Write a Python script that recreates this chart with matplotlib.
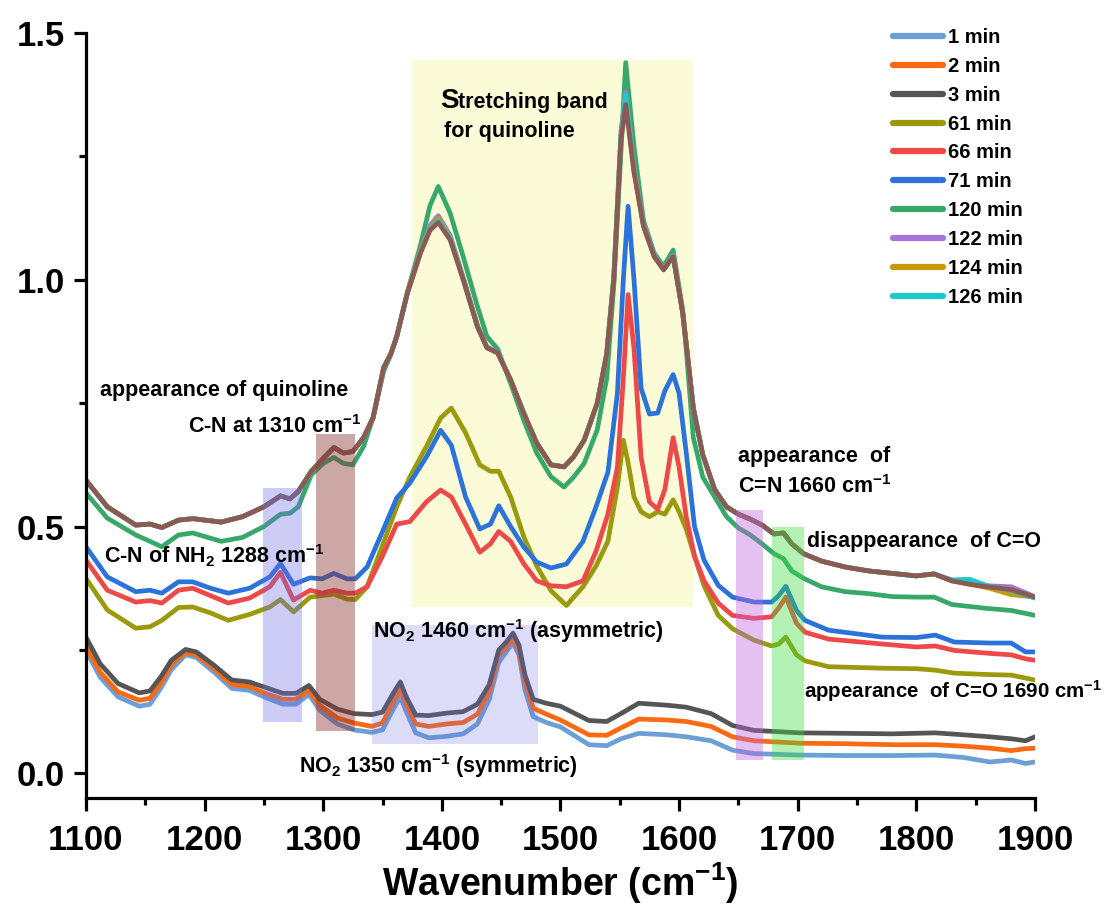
import matplotlib
matplotlib.use("Agg")
import matplotlib.pyplot as plt
from matplotlib.patches import Rectangle
from matplotlib.ticker import MultipleLocator, FormatStrFormatter

# ---- data ----
# early spectra (1, 2, 3 min)
wn_early = [1100, 1112, 1127, 1145, 1154, 1163, 1172, 1184, 1193, 1208, 1223, 1238, 1250,
            1266, 1277, 1288, 1297, 1312, 1326,
            1341, 1350, 1359, 1365, 1370, 1378, 1389, 1404, 1418, 1430, 1440, 1448, 1454,
            1460, 1465, 1470, 1477, 1488,
            1500, 1524, 1539, 1551, 1566, 1590, 1606, 1627, 1645, 1663, 1702, 1741, 1780,
            1816, 1840, 1862, 1880, 1892, 1900]
abs_1min = [.249, .195, .155, .136, .140, .172, .210, .240, .235, .205, .172, .168, .155,
            .140, .140, .160, .128, .100, .088,
            .083, .088, .130, .155, .125, .082, .072, .075, .080, .100, .150, .225, .245,
            .265, .240, .170, .115, .103,
            .094, .058, .056, .070, .081, .078, .074, .066, .047, .040, .037, .036, .036,
            .037, .032, .023, .027, .020, .023]
abs_2min = [.258, .205, .165, .148, .152, .182, .220, .245, .240, .212, .180, .176, .163,
            .150, .150, .168, .138, .112, .102,
            .095, .102, .145, .170, .140, .100, .095, .100, .103, .120, .165, .240, .255,
            .273, .248, .185, .132, .120,
            .108, .078, .077, .092, .110, .108, .105, .095, .074, .066, .061, .060, .058,
            .058, .055, .051, .046, .050, .051]
abs_3min = [.276, .222, .182, .163, .167, .195, .229, .251, .246, .219, .189, .185, .175,
            .162, .162, .178, .150, .130, .121,
            .119, .124, .162, .185, .155, .118, .117, .122, .125, .140, .180, .250, .265,
            .284, .260, .200, .150, .142,
            .136, .107, .105, .121, .142, .138, .134, .121, .097, .087, .082, .081, .080,
            .082, .078, .074, .070, .066, .074]

# middle spectra (61, 66, 71 min)
wn_mid = [1100, 1118, 1142, 1154, 1164, 1178, 1190, 1205, 1220, 1238, 1255, 1264, 1275,
          1289, 1299, 1309, 1320, 1327, 1337, 1350, 1362, 1373, 1387, 1399, 1408, 1420,
          1432, 1441, 1448, 1458, 1469, 1480, 1492, 1505, 1519, 1530, 1540, 1548, 1553,
          1557, 1562, 1568, 1575, 1582, 1588, 1595, 1600, 1606, 1613, 1621, 1633, 1645,
          1663, 1678, 1684, 1690, 1699, 1706, 1726, 1771, 1800, 1816, 1832, 1862, 1880,
          1892, 1900]
abs_61min = [.395, .331, .294, .297, .310, .336, .337, .325, .310, .322, .337, .352, .327,
             .357, .360, .363, .353, .352, .378, .462, .540, .600, .662, .720, .740, .690,
             .625, .612, .612, .560, .480, .420, .370, .340, .378, .420, .470, .580, .675,
             .630, .560, .530, .520, .530, .525, .554, .530, .495, .440, .380, .320, .293,
             .270, .258, .262, .276, .240, .228, .216, .213, .212, .209, .203, .200, .199,
             .193, .189]
abs_66min = [.432, .371, .347, .350, .345, .371, .375, .360, .345, .355, .378, .407, .351,
             .371, .365, .371, .365, .365, .378, .440, .505, .510, .550, .574, .560, .505,
             .448, .465, .490, .470, .425, .390, .380, .378, .390, .450, .525, .620, .800,
             .970, .860, .640, .550, .535, .575, .680, .620, .520, .440, .390, .345, .320,
             .314, .317, .335, .357, .304, .286, .272, .262, .256, .258, .249, .243, .240,
             .232, .229]
abs_71min = [.459, .398, .368, .371, .365, .388, .388, .375, .365, .375, .398, .425, .383,
             .396, .394, .405, .394, .394, .418, .490, .558, .588, .641, .695, .665, .560,
             .495, .505, .542, .500, .459, .428, .416, .424, .470, .540, .610, .770, 1.00,
             1.149, 1.00, .780, .728, .730, .775, .808, .770, .650, .500, .432, .381, .357,
             .347, .347, .360, .379, .330, .310, .290, .276, .275, .280, .266, .264, .264,
             .246, .246]

# late spectra (120 min onwards)
wn_late = [1100, 1118, 1142, 1154, 1164, 1178, 1190, 1214, 1232, 1250, 1264, 1272, 1279,
           1290, 1300, 1309, 1317, 1325, 1334, 1342, 1351, 1357, 1362, 1371, 1382, 1390,
           1397, 1407, 1418, 1430, 1438, 1447, 1458, 1469, 1480, 1492, 1503, 1511, 1520,
           1531, 1539, 1545, 1551, 1555, 1562, 1570, 1579, 1587, 1595, 1603, 1606, 1612,
           1620, 1630, 1640, 1650, 1660, 1670, 1680, 1688, 1695, 1705, 1720, 1740, 1760,
           1780, 1800, 1815, 1830, 1845, 1860, 1880, 1900]
abs_120min = [.568, .517, .483, .470, .459, .483, .487, .470, .478, .500, .525, .527, .540,
              .605, .628, .640, .628, .625, .662, .720, .815, .848, .885, .975, 1.07, 1.15,
              1.189, 1.135, 1.047, .946, .885, .860, .790, .716, .649, .601, .580, .600, .628,
              .696, .800, .990, 1.26, 1.44, 1.27, 1.12, 1.054, 1.027, 1.06, .940, .860, .680,
              .600, .560, .520, .497, .483, .465, .445, .435, .410, .395, .378, .368, .364,
              .358, .357, .357, .342, .338, .334, .330, .320]
abs_122min = [.594, .540, .503, .505, .498, .513, .516, .509, .520, .540, .562, .556, .571,
              .612, .638, .660, .649, .652, .680, .720, .822, .850, .885, .975, 1.06, 1.11,
              1.13, 1.09, 1.005, .908, .864, .853, .797, .730, .669, .625, .621, .641, .675,
              .750, .850, 1.01, 1.30, 1.38, 1.23, 1.115, 1.05, 1.022, 1.05, .935, .870, .740,
              .645, .575, .540, .525, .515, .503, .485, .487, .465, .445, .430, .418, .410,
              .405, .400, .404, .390, .385, .380, .378, .358]
abs_124min = [.594, .540, .503, .505, .498, .513, .516, .509, .520, .540, .562, .556, .571,
              .612, .638, .660, .649, .652, .680, .720, .822, .850, .885, .974, 1.058, 1.105,
              1.125, 1.087, 1.003, .906, .863, .852, .797, .730, .669, .625, .621, .641, .675,
              .750, .850, 1.005, 1.29, 1.37, 1.225, 1.11, 1.048, 1.021, 1.048, .934, .870, .740,
              .645, .575, .540, .525, .515, .503, .485, .487, .465, .445, .430, .418, .410,
              .405, .400, .404, .390, .383, .376, .362, .357]
abs_126min = [.594, .540, .503, .505, .498, .513, .516, .509, .520, .540, .562, .556, .571,
              .612, .638, .660, .649, .652, .680, .720, .822, .850, .885, .973, 1.056, 1.103,
              1.12, 1.085, 1.002, .906, .863, .852, .797, .730, .669, .625, .621, .641, .675,
              .750, .850, 1.003, 1.29, 1.375, 1.222, 1.11, 1.048, 1.021, 1.048, .934, .870, .740,
              .645, .575, .540, .525, .515, .503, .485, .487, .465, .445, .430, .418, .410,
              .405, .400, .404, .392, .393, .380, .370, .355]
abs_last = [.594, .540, .503, .505, .498, .513, .516, .509, .520, .540, .562, .556, .571,
            .612, .638, .660, .649, .652, .680, .720, .822, .850, .885, .973, 1.054, 1.10,
            1.116, 1.081, 1.000, .905, .862, .852, .797, .730, .669, .625, .621, .641, .675,
            .750, .850, 1.00, 1.284, 1.355, 1.217, 1.108, 1.047, 1.020, 1.047, .933, .870, .740,
            .645, .575, .540, .525, .515, .503, .485, .487, .465, .445, .430, .418, .410,
            .405, .400, .404, .390, .383, .378, .372, .357]

labels = ["1 min", "2 min", "3 min", "61 min", "66 min", "71 min",
          "120 min", "122 min", "124 min", "126 min"]
colors = ["#6b9fd6", "#fb6a12", "#555555", "#9a9a0c", "#ee4848", "#2b73da",
          "#38a86a", "#a675dc", "#c89a08", "#1cc8c8"]

# marked bands: (x0, x1, y0, y1)
band_quinoline = (1375, 1612, 0.337, 1.445)
band_nh2 = (1249, 1282, 0.103, 0.578)
band_cn = (1294, 1327, 0.085, 0.688)
band_no2 = (1341, 1481, 0.059, 0.300)
band_cn_double = (1648, 1671, 0.026, 0.533)
band_co = (1678, 1705, 0.026, 0.500)

plt.rcParams['font.family'] = ['Liberation Sans', 'DejaVu Sans']
plt.rcParams['font.weight'] = 'bold'
plt.rcParams['mathtext.fontset'] = 'custom'
plt.rcParams['mathtext.rm'] = 'Liberation Sans:bold'
plt.rcParams['mathtext.bf'] = 'Liberation Sans:bold'
plt.rcParams['mathtext.it'] = 'Liberation Sans:bold'

fig = plt.figure(figsize=(11.16, 9.06), dpi=100)
ax = fig.add_axes([0.077, 0.1192, 0.8504, 0.8444])

# yellow band sits under the curves
x0, x1, y0, y1 = band_quinoline
ax.add_patch(Rectangle((x0, y0), x1 - x0, y1 - y0, facecolor="#fbfbd8", edgecolor="none", zorder=0))

series = [(wn_early, abs_1min), (wn_early, abs_2min), (wn_early, abs_3min),
          (wn_mid, abs_61min), (wn_mid, abs_66min), (wn_mid, abs_71min),
          (wn_late, abs_120min), (wn_late, abs_122min), (wn_late, abs_124min),
          (wn_late, abs_126min)]
for (xs, ys), lab, c in zip(series, labels, colors):
    ax.plot(xs, ys, color=c, lw=3.4, label=lab, zorder=2,
            solid_capstyle='round', solid_joinstyle='round')
ax.plot(wn_late, abs_last, color="#8b5a52", lw=3.4, zorder=2,
        solid_capstyle='round', solid_joinstyle='round')

# translucent bands on top of the curves
for (b, c, a) in [(band_nh2, "#6e6ee6", 0.35), (band_cn, "#8c3232", 0.43),
                  (band_no2, "#6e6ee6", 0.24), (band_cn_double, "#be64dc", 0.40),
                  (band_co, "#3cdc3c", 0.38)]:
    x0, x1, y0, y1 = b
    ax.add_patch(Rectangle((x0, y0), x1 - x0, y1 - y0, facecolor=c, alpha=a,
                           edgecolor="none", zorder=3))

# annotations
fs = 15.5
ax.text(1398.7, 1.349, "S", fontsize=20, va='baseline')
ax.text(1414, 1.349, "tretching band", fontsize=fs, va='baseline')
ax.text(1402, 1.289, "for quinoline", fontsize=fs, va='baseline')
ax.text(1111.8, 0.765, "appearance of quinoline", fontsize=fs, va='baseline')
ax.text(1186, 0.690, r"C-N at 1310 cm$^{-1}$", fontsize=fs, va='baseline')
ax.text(1115, 0.426, r"C-N of NH$_2$ 1288 cm$^{-1}$", fontsize=fs, va='baseline')
ax.text(1342, 0.274, r"NO$_2$ 1460 cm$^{-1}$ (asymmetric)", fontsize=fs, va='baseline')
ax.text(1279.7, 0.000, r"NO$_2$ 1350 cm$^{-1}$ (symmetric)", fontsize=fs, va='baseline')
ax.text(1649.8, 0.631, "appearance  of", fontsize=fs, va='baseline')
ax.text(1649.8, 0.568, r"C=N 1660 cm$^{-1}$", fontsize=fs, va='baseline')
ax.text(1707.6, 0.458, "disappearance  of C=O", fontsize=fs, va='baseline')
ax.text(1705, 0.154, r"appearance  of C=O 1690 cm$^{-1}$", fontsize=14.8, va='baseline')

ax.set_xlim(1100, 1900)
ax.set_ylim(-0.05, 1.5)
ax.xaxis.set_major_locator(MultipleLocator(100))
ax.xaxis.set_minor_locator(MultipleLocator(50))
ax.yaxis.set_major_locator(MultipleLocator(0.5))
ax.yaxis.set_minor_locator(MultipleLocator(0.25))
ax.yaxis.set_major_formatter(FormatStrFormatter('%.1f'))

for s in ['top', 'right']:
    ax.spines[s].set_visible(False)
for s in ['left', 'bottom']:
    ax.spines[s].set_linewidth(2.3)
ax.tick_params(which='major', direction='out', length=9, width=2.3)
ax.tick_params(which='minor', direction='out', length=5, width=2.3)
ax.tick_params(axis='x', which='major', labelsize=25, pad=10)
ax.tick_params(axis='y', which='major', labelsize=25, pad=6)

ax.set_xlabel(r"Wavenumber (cm$^{-1}$)", fontsize=27, fontweight='bold', labelpad=2)

ax.legend(loc='upper left', bbox_to_anchor=(893 / 1116, (906 - 28) / 906),
          bbox_transform=fig.transFigure, frameon=False, fontsize=14.5,
          handlelength=2.5, handletextpad=0.25, labelspacing=0.49, borderpad=0,
          borderaxespad=0)
for h in ax.get_legend().get_lines():
    h.set_linewidth(4.5)

fig.savefig("out.png", dpi=100)
print("ok")
